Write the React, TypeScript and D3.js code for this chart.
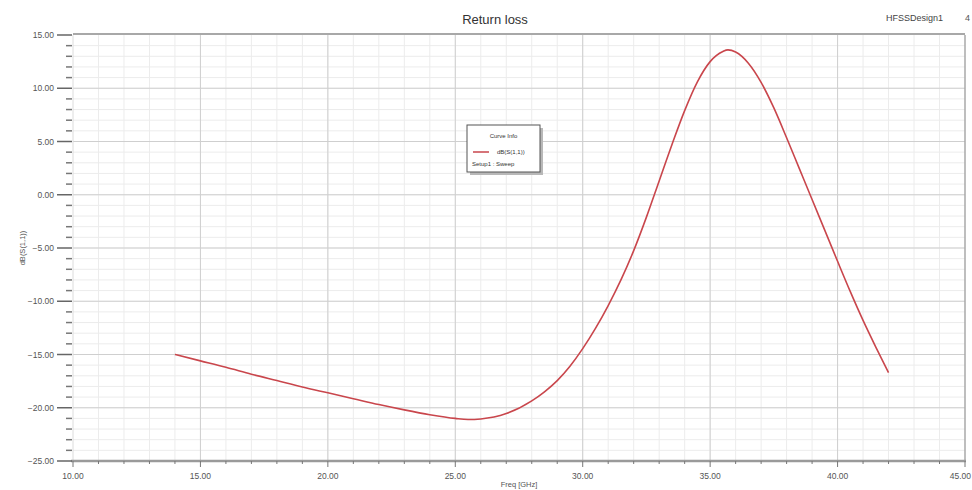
import * as d3 from "d3";
import { useEffect, useRef } from "react";

const FREQ = [
  14, 15, 16, 17, 18, 19, 20, 21, 22, 23, 24, 25, 25.5, 26, 27, 28, 28.5, 29,
  29.5, 30, 30.5, 31, 31.5, 32, 32.5, 33, 33.5, 34, 34.5, 35, 35.5, 35.7, 36,
  36.5, 37, 37.5, 38, 38.5, 39, 39.5, 40, 40.5, 41, 41.5, 42,
];
const S11 = [
  -15.0, -15.6, -16.2, -16.85, -17.45, -18.05, -18.6, -19.15, -19.7, -20.2,
  -20.65, -21.0, -21.1, -21.05, -20.55, -19.35, -18.5, -17.45, -16.1, -14.45,
  -12.55, -10.4, -8.0, -5.25, -2.1, 1.3, 4.7, 7.9, 10.6, 12.5, 13.45, 13.6,
  13.4, 12.35, 10.55, 8.15, 5.35, 2.45, -0.45, -3.35, -6.25, -9.1, -11.8, -14.3, -16.7,
];
const X_TICKS = [10, 15, 20, 25, 30, 35, 40, 45];
const Y_TICKS = [15, 10, 5, 0, -5, -10, -15, -20, -25];

const W = 972;
const H = 490;
const M = { left: 73, right: 7, top: 35, bottom: 29 };

export default function App() {
  const svgRef = useRef<SVGSVGElement>(null);

  useEffect(() => {
    document.body.style.margin = "0";
    const svg = d3.select(svgRef.current);
    svg.selectAll("*").remove();

    const x = d3.scaleLinear().domain([10, 45]).range([M.left, W - M.right]);
    const y = d3.scaleLinear().domain([-25, 15]).range([H - M.bottom, M.top]);
    const font = "'Liberation Sans', Arial, sans-serif";

    // minor grid
    const g = svg.append("g");
    g.selectAll(".vmin")
      .data(d3.range(11, 45))
      .enter()
      .append("line")
      .attr("x1", (d) => x(d)).attr("x2", (d) => x(d))
      .attr("y1", y(15)).attr("y2", y(-25))
      .attr("stroke", "#ececec").attr("stroke-width", 1);
    g.selectAll(".hmin")
      .data(d3.range(-24, 15))
      .enter()
      .append("line")
      .attr("x1", x(10)).attr("x2", x(45))
      .attr("y1", (d) => y(d)).attr("y2", (d) => y(d))
      .attr("stroke", "#ececec").attr("stroke-width", 1);

    // major grid
    g.selectAll(".vmaj")
      .data(X_TICKS.slice(1, -1))
      .enter()
      .append("line")
      .attr("x1", (d) => x(d)).attr("x2", (d) => x(d))
      .attr("y1", y(15)).attr("y2", y(-25))
      .attr("stroke", "#cfcfcf").attr("stroke-width", 1);
    g.selectAll(".hmaj")
      .data(Y_TICKS.slice(1, -1))
      .enter()
      .append("line")
      .attr("x1", x(10)).attr("x2", x(45))
      .attr("y1", (d) => y(d)).attr("y2", (d) => y(d))
      .attr("stroke", "#cfcfcf").attr("stroke-width", 1);

    // frame
    svg.append("line")
      .attr("x1", x(10)).attr("x2", x(45))
      .attr("y1", y(15) - 1).attr("y2", y(15) - 1)
      .attr("stroke", "#a8a8a8").attr("stroke-width", 2);
    svg.append("line")
      .attr("x1", x(45)).attr("x2", x(45))
      .attr("y1", y(15)).attr("y2", y(-25))
      .attr("stroke", "#a8a8a8").attr("stroke-width", 1.5);
    svg.append("line")
      .attr("x1", x(10)).attr("x2", x(10))
      .attr("y1", y(15)).attr("y2", y(-25))
      .attr("stroke", "#dcdcdc").attr("stroke-width", 1);
    svg.append("line")
      .attr("x1", x(10) - 2).attr("x2", x(45) + 1)
      .attr("y1", y(-25)).attr("y2", y(-25))
      .attr("stroke", "#9a9a9a").attr("stroke-width", 2.5);

    // y ticks
    svg.selectAll(".ymin")
      .data(d3.range(-25, 16))
      .enter()
      .append("line")
      .attr("x1", (d) => (d % 5 === 0 ? x(10) - 16 : x(10) - 7))
      .attr("x2", x(10) - 1)
      .attr("y1", (d) => y(d)).attr("y2", (d) => y(d))
      .attr("stroke", (d) => (d % 5 === 0 ? "#666" : "#777"))
      .attr("stroke-width", 1.5);
    svg.selectAll(".ylab")
      .data(Y_TICKS)
      .enter()
      .append("text")
      .attr("x", x(10) - 19)
      .attr("y", (d) => y(d) + 3)
      .attr("text-anchor", "end")
      .style("font-family", font)
      .style("font-size", "8.5px")
      .style("fill", "#555")
      .text((d) => d3.format(".2f")(d));

    // x ticks
    svg.selectAll(".xmin")
      .data(d3.range(10, 46))
      .enter()
      .append("line")
      .attr("x1", (d) => x(d)).attr("x2", (d) => x(d))
      .attr("y1", y(-25))
      .attr("y2", (d) => (d % 5 === 0 ? y(-25) + 6 : y(-25) + 3))
      .attr("stroke", "#777").attr("stroke-width", 1);
    svg.selectAll(".xlab")
      .data(X_TICKS)
      .enter()
      .append("text")
      .attr("x", (d) => (d === 45 ? W - 1 : x(d)))
      .attr("y", y(-25) + 18)
      .attr("text-anchor", (d) => (d === 45 ? "end" : "middle"))
      .style("font-family", font)
      .style("font-size", "8.5px")
      .style("fill", "#555")
      .text((d) => d3.format(".2f")(d));

    // curve
    const line = d3.line<number>()
      .x((_, i) => x(FREQ[i]))
      .y((d) => y(d))
      .curve(d3.curveMonotoneX);
    svg.append("path")
      .datum(S11)
      .attr("d", line)
      .attr("fill", "none")
      .attr("stroke", "#c9464c")
      .attr("stroke-width", 1.6);

    // titles
    svg.append("text")
      .attr("x", 495).attr("y", 24)
      .attr("text-anchor", "middle")
      .style("font-family", font)
      .style("font-size", "13px")
      .style("fill", "#333")
      .text("Return loss");
    svg.append("text")
      .attr("x", 943).attr("y", 21)
      .attr("text-anchor", "end")
      .style("font-family", font)
      .style("font-size", "9px")
      .style("fill", "#444")
      .text("HFSSDesign1");
    svg.append("text")
      .attr("x", 965).attr("y", 21)
      .style("font-family", font)
      .style("font-size", "9px")
      .style("fill", "#555")
      .text("4");
    svg.append("text")
      .attr("transform", `translate(25,${(y(15) + y(-25)) / 2}) rotate(-90)`)
      .attr("text-anchor", "middle")
      .style("font-family", font)
      .style("font-size", "7.5px")
      .style("fill", "#555")
      .text("dB(S(1,1))");
    svg.append("text")
      .attr("x", (x(10) + x(45)) / 2).attr("y", 487)
      .attr("text-anchor", "middle")
      .style("font-family", font)
      .style("font-size", "7.5px")
      .style("fill", "#555")
      .text("Freq [GHz]");

    // legend
    const lg = svg.append("g").attr("transform", "translate(467,125)");
    lg.append("rect")
      .attr("x", 3).attr("y", 3).attr("width", 73).attr("height", 47)
      .attr("fill", "#b8b8b8");
    lg.append("rect")
      .attr("x", 0).attr("y", 0).attr("width", 73).attr("height", 47)
      .attr("fill", "#fff").attr("stroke", "#555").attr("stroke-width", 1);
    lg.append("text")
      .attr("x", 36.5).attr("y", 13)
      .attr("text-anchor", "middle")
      .style("font-family", font).style("font-size", "6px").style("fill", "#333")
      .text("Curve Info");
    lg.append("line")
      .attr("x1", 6).attr("x2", 22).attr("y1", 27).attr("y2", 27)
      .attr("stroke", "#c9464c").attr("stroke-width", 1.5);
    lg.append("text")
      .attr("x", 30).attr("y", 29)
      .style("font-family", font).style("font-size", "6px").style("fill", "#333")
      .text("dB(S(1,1))");
    lg.append("text")
      .attr("x", 5).attr("y", 41)
      .style("font-family", font).style("font-size", "6px").style("fill", "#333")
      .text("Setup1 : Sweep");
  }, []);

  return <svg ref={svgRef} width={W} height={H} style={{ display: "block", background: "#fff" }} />;
}
